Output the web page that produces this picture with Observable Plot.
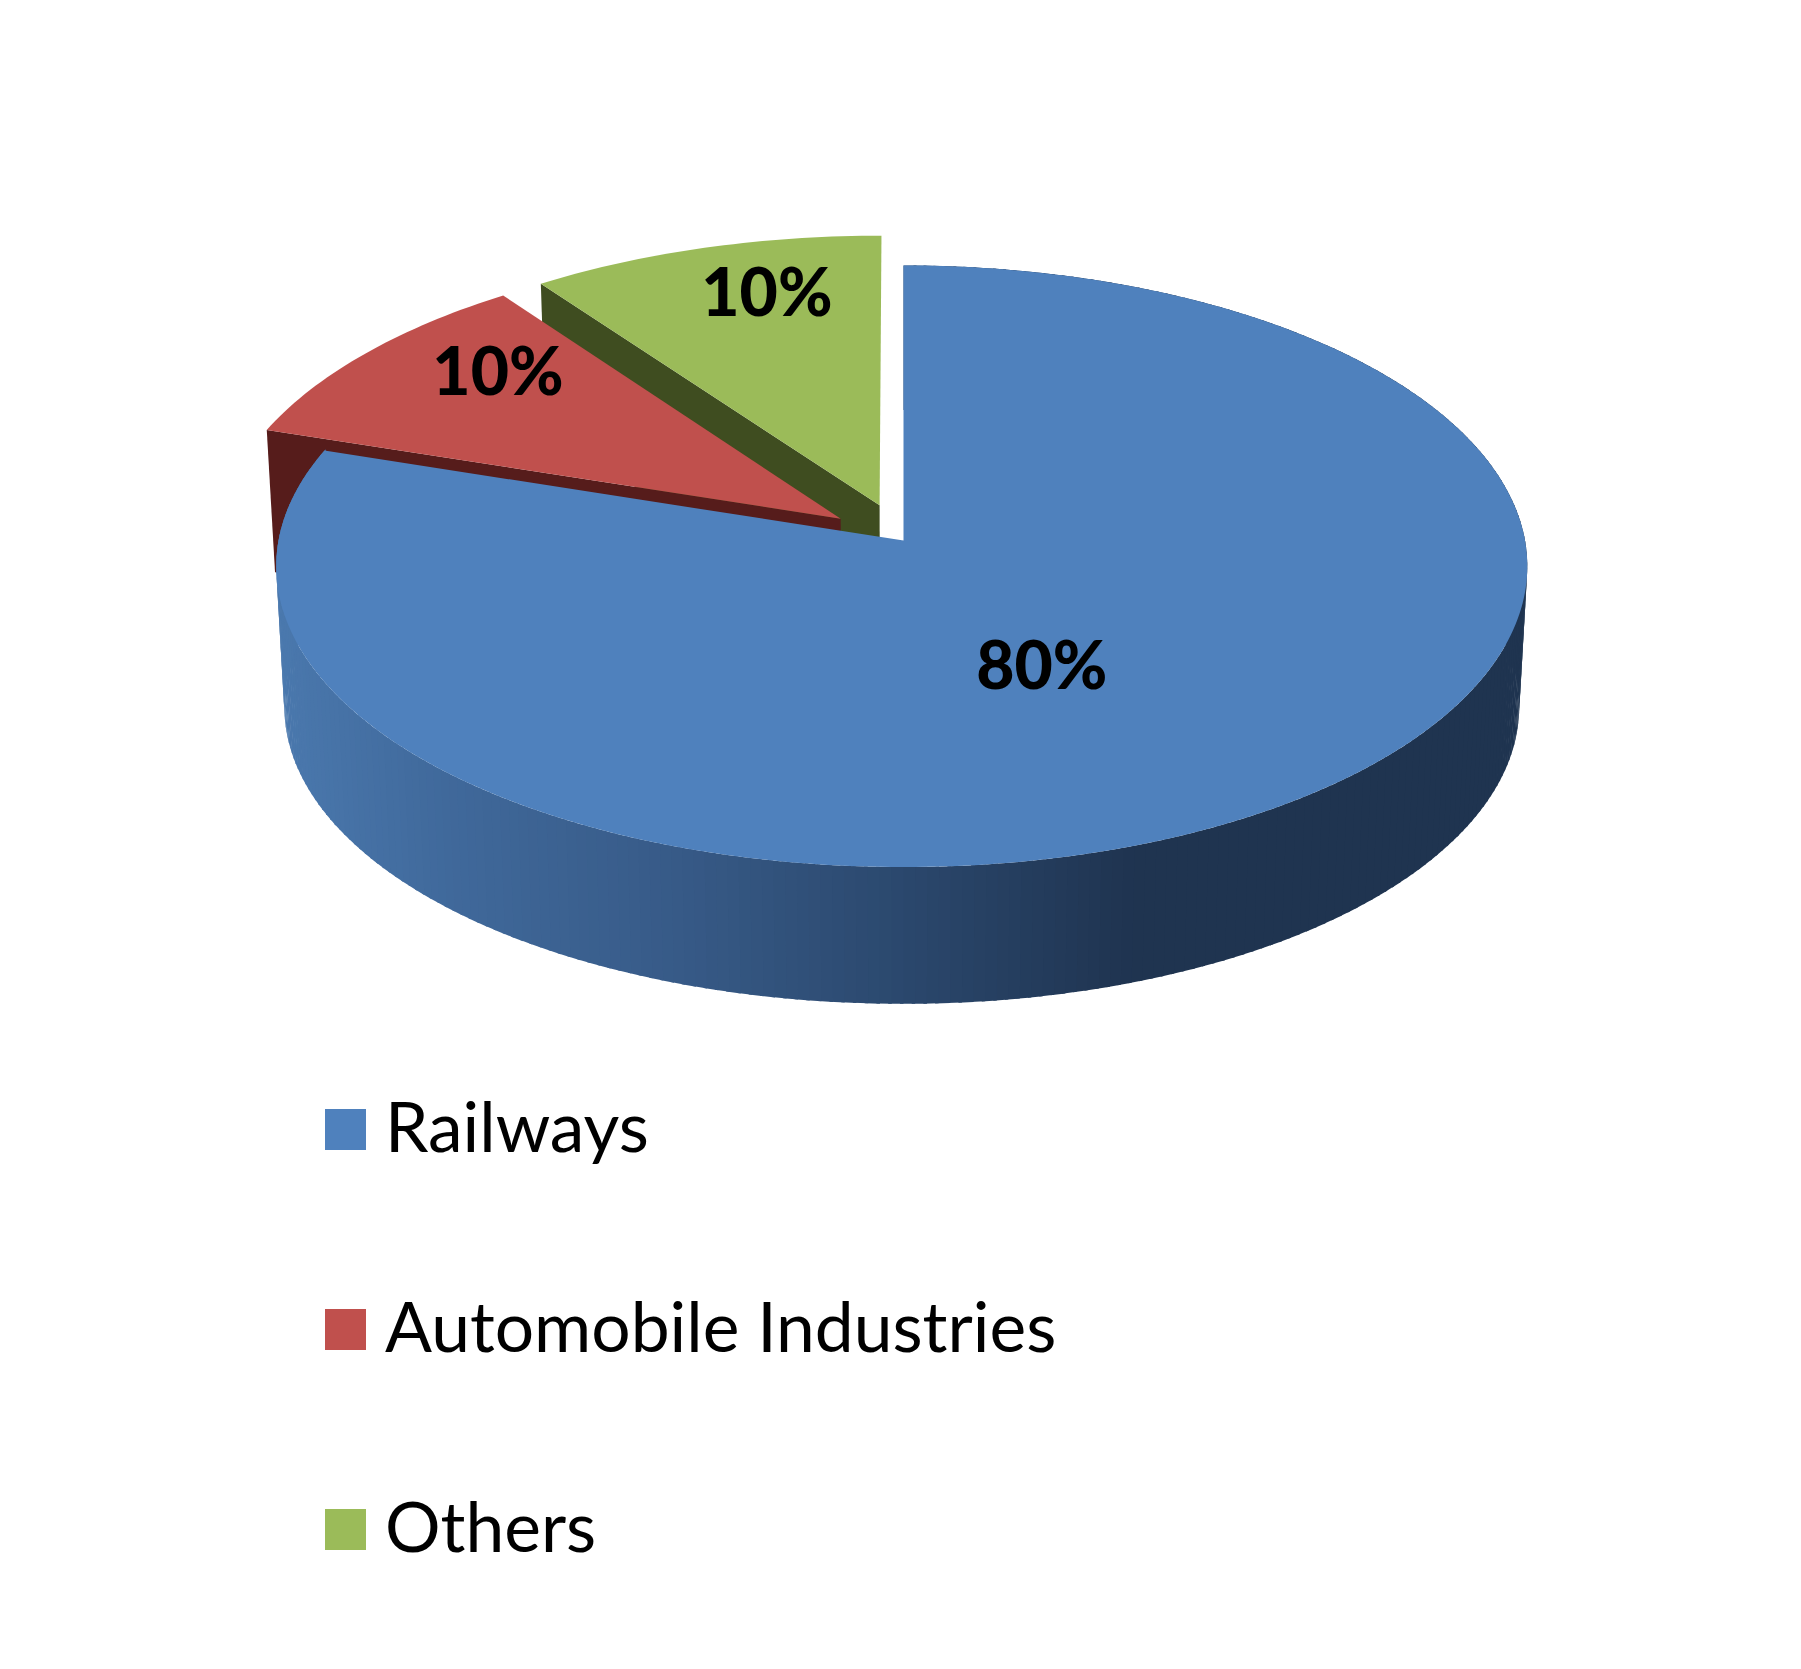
<!DOCTYPE html>
<html>
<head>
<meta charset="utf-8">
<script src="https://cdn.jsdelivr.net/npm/d3@7"></script>
<script src="https://cdn.jsdelivr.net/npm/@observablehq/plot@0.6"></script>
<style>
  html, body { margin: 0; padding: 0; background: #fff; }
  #legend { position: relative; height: 589px; font-family: Lato, sans-serif; font-size: 69.5px; color: #000; }
  .item { position: absolute; left: 325px; display: flex; align-items: center; height: 41px; white-space: nowrap; }
  .swatch { width: 41px; height: 41px; margin-right: 19px; flex: none; }
  .item span { position: relative; top: -5px; }
</style>
</head>
<body>
<div id="chart"></div>
<div id="legend"></div>
<script>
const categories = ["Railways", "Automobile Industries", "Others"];
const shares = [80, 10, 10];
const shareLabels = ["80%", "10%", "10%"];
const topColors = ["#4f81bd", "#c0504d", "#9bbb59"];
const wallColors = ["#1f3552", "#561c1b", "#3f4d20"];
const explode = [0, 0.125, 0.125];
const labelAngles = [152.5, 311.5, 345.6];
const labelRadii = [0.465, 0.775, 0.79];
const sideShadeXs = [285, 450, 680, 880, 1130];
const sideShadeColors = ["#4a78ad", "#40699b", "#375a87", "#2c4a70", "#1f3450"];

const W = 1801, H = 1080;
// perspective of the pie plane
const view = {x0: 903, y0: 540, cLeft: 625, cRight: 621.5, b: 298.6, a: 0.0857, y1: 681, k: 0.987};
const rad = d => d * Math.PI / 180;
function project(u, v, low) {
  const s = 1 / (1 + view.a * v);
  const X = (u < 0 ? view.cLeft : view.cRight) * u * s, Y = -view.b * v * s;
  return low ? [view.x0 + X * view.k, view.y1 + Y * view.k] : [view.x0 + X, view.y0 + Y];
}
function polar(angle, r, i, low) {
  const bis = rad(sliceBounds[i][0] + (sliceBounds[i][1] - sliceBounds[i][0]) / 2);
  const u = r * Math.sin(rad(angle)) + explode[i] * Math.sin(bis);
  const v = r * Math.cos(rad(angle)) + explode[i] * Math.cos(bis);
  return project(u, v, low);
}
let acc = 0;
const total = d3.sum(shares);
const sliceBounds = shares.map(s => { const a0 = acc; acc += s; return [a0 / total * 360, acc / total * 360]; });

const polys = [];
function pushPoly(id, color, pts) { pts.forEach(p => polys.push({id, color, x: p[0], y: p[1]})); }

// back to front: Others, Automobile Industries, Railways
const shade = d3.scaleLinear().domain(sideShadeXs).range(sideShadeColors).clamp(true);
[2, 1, 0].forEach(i => {
  const [a0, a1] = sliceBounds[i];
  if (i === 0) {
    // outer wall, shaded quad by quad
    for (let a = a0; a < a1; a += 1) {
      const p = polar(a + 0.5, 1, i, true);
      pushPoly("w" + a, shade(p[0]), [polar(a, 1, i), polar(a + 1.3, 1, i), polar(a + 1.3, 1, i, true), polar(a, 1, i, true)]);
    }
  } else {
    // visible cut wall on the leading edge
    pushPoly("c" + i, wallColors[i], [polar(a0, 0, i), polar(a0, 1, i), polar(a0, 1, i, true), polar(a0, 0, i, true)]);
  }
  const top = [polar(a0, 0, i)];
  for (let a = a0; a <= a1; a += 1) top.push(polar(a, 1, i));
  pushPoly("t" + i, topColors[i], top);
});

const labels = categories.map((c, i) => {
  const [x, y] = polar(labelAngles[i], labelRadii[i], i);
  return {x, y, text: shareLabels[i]};
});

const plot = Plot.plot({
  width: W, height: H, margin: 0,
  x: {domain: [0, W], range: [0, W], axis: null},
  y: {domain: [0, H], range: [0, H], axis: null},
  color: {type: "identity"},
  marks: [
    Plot.line(polys, {x: "x", y: "y", z: "id", fill: "color", stroke: "none", curve: "linear"}),
    Plot.text(labels, {x: "x", y: "y", text: "text", fontSize: 66, fontWeight: 900, fontFamily: "Lato, sans-serif", fill: "#000"})
  ]
});
plot.style.display = "block";
document.getElementById("chart").append(plot);

const legend = document.getElementById("legend");
const legendTop = [1109, 1309, 1509];
categories.forEach((c, i) => {
  const item = document.createElement("div");
  item.className = "item";
  item.style.top = (legendTop[i] - H) + "px";
  const sw = document.createElement("div");
  sw.className = "swatch";
  sw.style.background = topColors[i];
  const lab = document.createElement("span");
  lab.textContent = c;
  item.append(sw, lab);
  legend.append(item);
});
</script>
</body>
</html>
